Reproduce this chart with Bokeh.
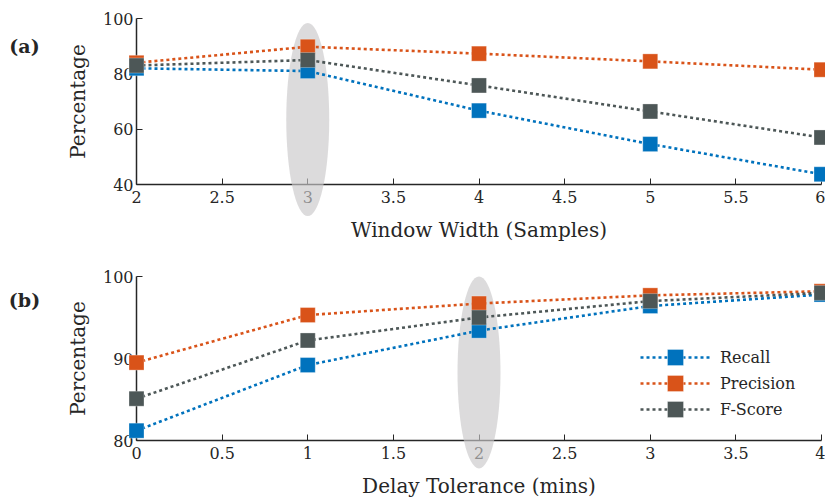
from bokeh.plotting import figure
from bokeh.layouts import column
from bokeh.models import Legend, LegendItem, FixedTicker
from bokeh.core.properties import value
from bokeh.embed import file_html
from bokeh.resources import INLINE

# ---- data ----
window_width = [2, 3, 4, 5, 6]
recall_a = [82.0, 81.0, 66.7, 54.6, 43.7]
precision_a = [84.0, 89.8, 87.3, 84.5, 81.5]
fscore_a = [83.0, 85.0, 75.8, 66.4, 57.0]

delay_tol = [0, 1, 2, 3, 4]
recall_b = [81.2, 89.2, 93.4, 96.4, 97.8]
precision_b = [89.5, 95.3, 96.7, 97.7, 98.2]
fscore_b = [85.1, 92.2, 95.0, 97.0, 98.0]

xticks_a = [2, 2.5, 3, 3.5, 4, 4.5, 5, 5.5, 6]
yticks_a = [40, 60, 80, 100]
xticks_b = [0, 0.5, 1, 1.5, 2, 2.5, 3, 3.5, 4]
yticks_b = [80, 90, 100]

highlight_a = 3
highlight_b = 2

series_names = ["Recall", "Precision", "F-Score"]
colors = ["#0072BD", "#D95319", "#4D5757"]

FONT = "DejaVu Serif"
AX = "#262626"


def style(p, xticks, yticks, xlabel):
    p.xaxis.ticker = FixedTicker(ticks=xticks)
    p.yaxis.ticker = FixedTicker(ticks=yticks)
    p.xgrid.visible = False
    p.ygrid.visible = False
    p.outline_line_color = None
    for ax in (p.xaxis[0], p.yaxis[0]):
        ax.axis_line_color = AX
        ax.axis_line_width = 1.5
        ax.major_tick_line_color = AX
        ax.major_tick_line_width = 1
        ax.major_tick_in = 6
        ax.major_tick_out = 0
        ax.minor_tick_line_color = None
        ax.major_label_text_font = FONT
        ax.major_label_text_font_size = "16px"
        ax.major_label_text_color = AX
        ax.axis_label_text_font = FONT
        ax.axis_label_text_font_size = "20px"
        ax.axis_label_text_font_style = "normal"
        ax.axis_label_text_color = AX
    p.xaxis.major_label_standoff = 6
    p.yaxis.major_label_standoff = 3
    p.xaxis.axis_label = xlabel
    p.yaxis.axis_label = "Percentage"
    p.xaxis.axis_label_standoff = 12
    p.yaxis.axis_label_standoff = 10


def make(x, ys, xr, yr, xticks, yticks, xlabel, hx, ell_y, ell_h, ell_w,
         h, tb, bb, tag, tag_x, tag_y, legend):
    p = figure(width=825, height=h, x_range=xr, y_range=yr,
               output_backend="svg", toolbar_location=None,
               min_border_left=136, min_border_right=4,
               min_border_top=tb, min_border_bottom=bb,
               background_fill_color="white", border_fill_color="white")
    style(p, xticks, yticks, xlabel)
    p.ellipse(x=[hx], y=[ell_y], width=ell_w, height=ell_h,
              fill_color="#c9c7c9", fill_alpha=0.65, line_color=None,
              level="annotation")
    items = []
    for name, yv, c in zip(series_names, ys, colors):
        ln = p.line(x, yv, line_color=c, line_width=2.6, line_dash="3 3", level="overlay")
        sc = p.scatter(x, yv, marker="square", size=15, fill_color=c,
                       line_color="white", line_alpha=0.5, line_width=0.6, level="overlay")
        items.append(LegendItem(label=name, renderers=[ln, sc]))
    if legend:
        # one legend per entry so rows can be closer than the glyph box height
        for i, item in enumerate(items):
            lg = Legend(items=[item], location=(504, 63 - 26 * i), orientation="vertical",
                        border_line_color=None, background_fill_alpha=0,
                        glyph_width=70, glyph_height=40, label_width=60,
                        spacing=0, padding=0, margin=0,
                        label_text_font=FONT, label_text_font_size="16px",
                        label_text_color=AX, label_standoff=10)
            p.add_layout(lg, "center")
    p.text(x=[tag_x], y=[tag_y], text=[tag], text_font=value(FONT),
           text_font_size="19px", text_font_style="bold", text_color=AX,
           text_align="center", text_baseline="middle", level="annotation")
    return p


p1 = make(window_width, [recall_a, precision_a, fscore_a], (2, 6), (40, 100),
          xticks_a, yticks_a, "Window Width (Samples)", highlight_a,
          63.5, 69.8, 0.251, 250, 18, 66, "(a)", 1.346, 90.2, False)
p2 = make(delay_tol, [recall_b, precision_b, fscore_b], (0, 4), (80, 100),
          xticks_b, yticks_b, "Delay Tolerance (mins)", highlight_b,
          88.3, 23.4, 0.251, 250, 26, 60, "(b)", -0.654, 97.1, True)

layout = column(p1, p2, spacing=0)
open("out.html", "w").write(file_html(layout, INLINE))
